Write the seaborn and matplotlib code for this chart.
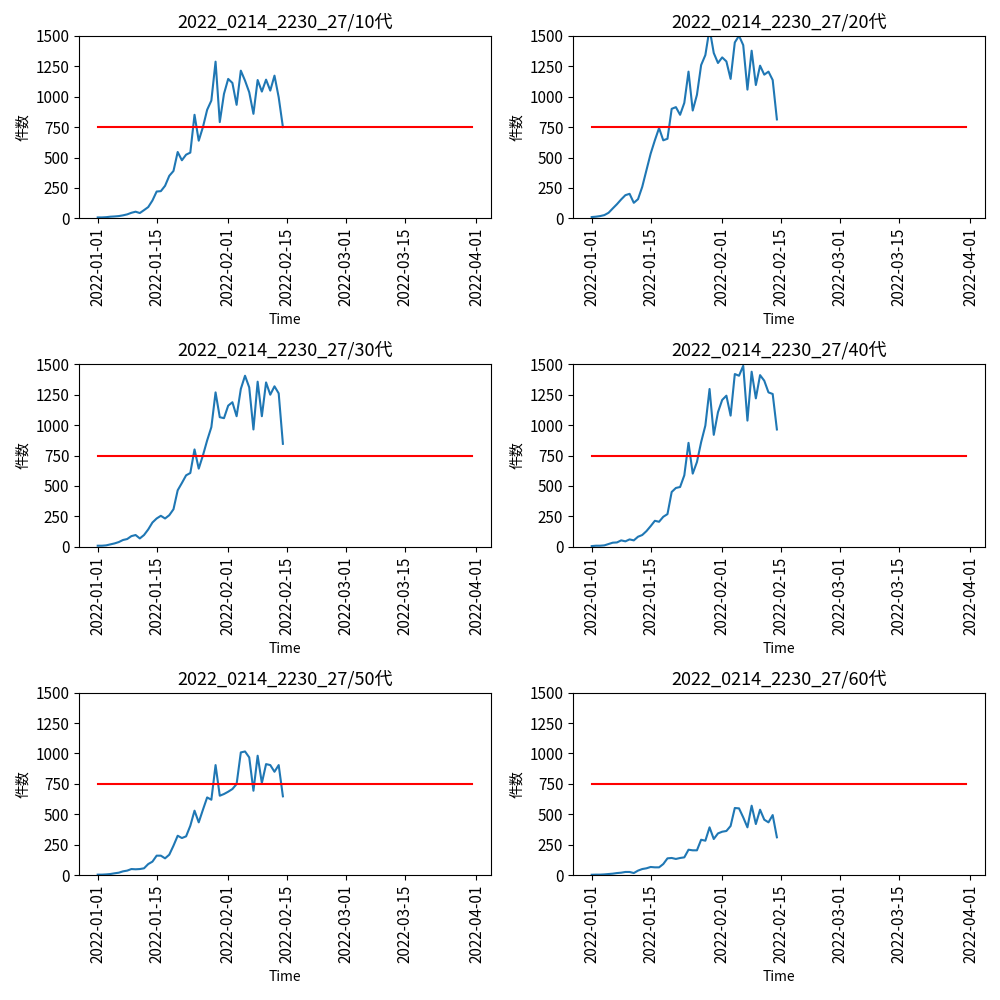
import numpy as np
import pandas as pd
import matplotlib
matplotlib.use("Agg")
import matplotlib.pyplot as plt
import matplotlib.dates as mdates
import seaborn as sns

plt.rcParams['font.family'] = ['Noto Sans CJK JP', 'DejaVu Sans']

title_prefix = "2022_0214_2230_27/"
groups = ["10代", "20代", "30代", "40代", "50代", "60代"]
start_date = "2022-01-01"
end_date = "2022-02-14"
threshold_start = "2022-01-01"
threshold_end = "2022-03-31"
threshold_value = 750

v10 = [8, 8, 10, 14, 16, 19, 25, 33, 46, 55, 44, 68, 93, 147, 221, 224, 268, 350, 390, 546,
       478, 524, 541, 852, 639, 751, 893, 969, 1289, 792, 1024, 1147, 1114, 934, 1215, 1133,
       1037, 860, 1138, 1043, 1141, 1051, 1174, 996, 751]
v20 = [11, 14, 19, 27, 46, 82, 117, 156, 191, 202, 128, 158, 259, 396, 532, 642, 743, 642,
       655, 901, 915, 852, 950, 1207, 887, 1016, 1261, 1343, 1560, 1360, 1278, 1324, 1291,
       1147, 1447, 1502, 1425, 1059, 1379, 1097, 1256, 1182, 1207, 1138, 814]
v30 = [8, 8, 11, 19, 27, 38, 55, 63, 87, 96, 68, 96, 142, 199, 232, 254, 232, 259, 308, 464,
       524, 587, 606, 800, 642, 751, 874, 983, 1269, 1065, 1057, 1160, 1188, 1073, 1297, 1406,
       1310, 964, 1357, 1073, 1351, 1250, 1319, 1261, 846]
v40 = [5, 8, 8, 11, 22, 33, 35, 52, 44, 60, 52, 82, 96, 128, 169, 213, 205, 246, 268, 450,
       483, 491, 587, 854, 601, 696, 860, 996, 1297, 920, 1106, 1207, 1242, 1078, 1420, 1406,
       1488, 1037, 1439, 1220, 1411, 1365, 1269, 1256, 964]
v50 = [3, 3, 5, 8, 14, 19, 30, 36, 49, 47, 49, 55, 90, 110, 159, 159, 137, 167, 241, 323,
       304, 318, 405, 529, 433, 537, 638, 619, 904, 652, 666, 685, 707, 748, 1008, 1016,
       967, 693, 981, 756, 912, 904, 849, 904, 647]
v60 = [2, 3, 3, 5, 8, 11, 16, 19, 25, 25, 16, 36, 49, 55, 66, 63, 63, 90, 137, 140,
       132, 140, 145, 208, 203, 203, 290, 282, 392, 296, 342, 356, 362, 403, 551, 548,
       474, 392, 570, 419, 537, 455, 433, 493, 310]
series = [v10, v20, v30, v40, v50, v60]

yticks = [0, 250, 500, 750, 1000, 1250, 1500]
xtick_labels = ["2022-01-01", "2022-01-15", "2022-02-01", "2022-02-15",
                "2022-03-01", "2022-03-15", "2022-04-01"]

dates = pd.date_range(start_date, end_date, freq="D")
thr = pd.DataFrame({"Time": pd.to_datetime([threshold_start, threshold_end]),
                    "件数": [threshold_value, threshold_value]})

fig, axes = plt.subplots(3, 2, figsize=(10, 10), dpi=100)
for ax, g, vals in zip(axes.flat, groups, series):
    df = pd.DataFrame({"Time": dates, "件数": vals})
    sns.lineplot(data=df, x="Time", y="件数", ax=ax, color="#1f77b4", linewidth=1.5)
    sns.lineplot(data=thr, x="Time", y="件数", ax=ax, color="red", linewidth=1.5)
    ax.set_title(title_prefix + g, fontsize=13)
    ax.set_ylim(0, 1500)
    ax.set_yticks(yticks)
    ax.set_xticks(pd.to_datetime(xtick_labels))
    ax.xaxis.set_major_formatter(mdates.DateFormatter("%Y-%m-%d"))
    ax.tick_params(axis="x", rotation=90, labelsize=11)
    ax.tick_params(axis="y", labelsize=11)
    ax.set_xlabel("Time", labelpad=5)
    ax.set_ylabel("件数")

fig.subplots_adjust(left=0.079, right=0.985, top=0.964, bottom=0.125,
                    wspace=0.199, hspace=0.80)
fig.savefig("out.png", dpi=100)
